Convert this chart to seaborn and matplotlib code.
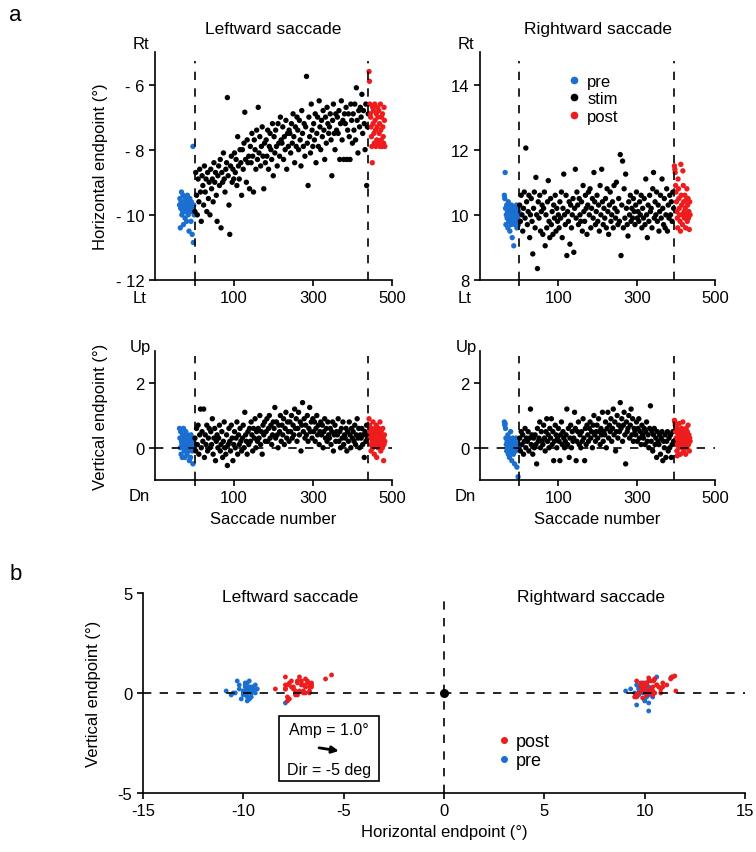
import numpy as np
import pandas as pd
import matplotlib
matplotlib.use("Agg")
import matplotlib.pyplot as plt
import seaborn as sns
from matplotlib.lines import Line2D
from matplotlib.patches import Rectangle

# ---- values ----
# number of stimulated saccades in each direction
left_n_stim = 439
right_n_stim = 394

# leftward saccades, horizontal endpoint (deg)
left_h_pre = [-9.7, -9.5, -10.4, -9.8, -9.6, -9.3, -10.0, -9.7, -9.9, -9.4, -10.3, -9.6, -9.8,
              -9.7, -10.1, -9.5, -9.9, -9.6, -10.2, -9.8, -9.4, -9.7, -10.0, -9.6, -10.5, -9.8,
              -9.5, -9.9, -9.7, -10.2, -9.6, -9.8, -10.6, -9.9, -7.9, -10.85, -9.7, -10.0]
left_h_stim = [
    -9.9, -8.7, -9.4, -10.0, -8.9, -9.6, -8.6, -9.3, -10.2, -8.8,
    -9.1, -9.7, -8.5, -9.3, -8.9, -9.9, -8.7, -9.5, -9.0, -10.0,
    -8.6, -9.2, -8.9, -9.6, -8.4, -9.0, -8.7, -9.4, -10.2, -8.8,
    -8.5, -9.1, -8.3, -10.4, -8.7, -9.0, -8.1, -8.9, -9.3, -8.6,
    -8.4, -6.4, -8.8, -9.7, -10.6, -8.5, -8.2, -9.0, -8.6, -8.9,
    -8.1, -8.7, -8.3, -9.1, -7.6, -8.5, -8.9, -8.0, -8.4, -9.4,
    -8.0, -8.6, -7.8, -6.85, -8.3, -9.0, -7.7, -8.4, -8.2, -9.2,
    -7.9, -8.4, -7.5, -8.2, -9.3, -7.7, -8.0, -8.6, -7.4, -8.3,
    -6.7, -8.1, -7.6, -8.5, -7.9, -7.3, -8.2, -9.2, -7.8, -8.4,
    -7.7, -8.2, -7.4, -8.6, -7.9, -7.5, -8.0, -8.3, -7.2, -8.8,
    -7.6, -8.1, -7.4, -7.9, -8.5, -7.2, -7.8, -8.2, -7.0, -7.7,
    -7.8, -7.3, -8.3, -7.6, -8.0, -7.1, -8.6, -7.5, -7.9, -7.4,
    -7.5, -8.1, -7.2, -7.8, -6.9, -7.6, -8.4, -7.3, -7.9, -7.0,
    -7.4, -8.0, -7.1, -7.7, -8.5, -6.8, -7.5, -7.9, -7.2, -8.2,
    -7.3, -5.75, -7.8, -9.1, -7.0, -7.6, -8.1, -6.6, -7.4, -7.9,
    -7.2, -7.7, -6.9, -8.4, -7.5, -7.0, -7.9, -6.5, -7.3, -8.0,
    -7.1, -7.6, -6.8, -7.4, -8.3, -7.0, -7.8, -6.7, -7.2, -7.5,
    -7.3, -6.9, -7.7, -8.8, -7.1, -6.6, -7.5, -8.0, -6.9, -7.4,
    -7.0, -7.5, -6.8, -8.3, -7.2, -6.5, -7.7, -7.1, -8.3, -6.9,
    -7.2, -6.7, -8.3, -7.4, -6.9, -7.6, -8.3, -6.6, -7.1, -7.8,
    -6.9, -7.4, -6.6, -7.7, -6.1, -7.1, -8.1, -6.8, -7.3, -6.7,
    -7.0, -6.3, -7.5, -6.8, -7.2, -8.0, -6.6, -9.1, -7.3, -6.9]
left_h_post = [-5.6, -5.9, -6.6, -6.9, -7.0, -7.3, -7.6, -7.9, -8.4, -6.7, -7.2, -6.8, -7.5,
               -7.8, -6.6, -7.1, -7.4, -7.9, -6.9, -7.7, -7.3, -6.7, -7.0, -7.8, -6.8, -7.5,
               -7.2, -7.9, -6.6, -7.4, -7.7, -7.0, -7.9, -6.9, -7.3, -7.6, -7.8, -6.7, -7.1, -7.9]

# rightward saccades, horizontal endpoint (deg)
right_h_pre = [10.6, 10.5, 11.3, 10.2, 9.7, 10.0, 10.3, 9.9, 10.1, 9.6, 10.4, 9.8, 10.2, 10.0,
               9.5, 10.1, 9.9, 9.7, 10.3, 10.0, 9.3, 10.2, 9.8, 10.1, 9.05, 9.9, 10.2, 9.7,
               10.0, 10.1, 9.8, 10.3, 9.6, 10.0, 9.9, 10.2, 9.7, 10.1]
right_h_stim = [
    10.3, 9.8, 10.6, 10.0, 9.5, 10.2, 10.7, 9.9, 12.05, 10.4,
    9.7, 10.1, 10.6, 9.3, 10.0, 10.5, 9.8, 8.8, 10.2, 10.7,
    9.6, 11.15, 10.0, 8.35, 10.4, 9.9, 10.6, 9.5, 10.1, 10.3,
    9.4, 10.2, 10.7, 9.05, 10.0, 9.6, 10.4, 11.05, 9.8, 9.3,
    10.5, 9.7, 10.1, 9.4, 10.3, 9.9, 10.6, 9.5, 10.2, 9.8,
    10.0, 9.6, 10.4, 9.9, 10.7, 9.3, 10.2, 11.25, 10.0, 9.7,
    10.6, 8.75, 10.1, 9.8, 10.4, 9.1, 10.3, 9.6, 10.0, 10.5,
    8.85, 10.2, 11.4, 9.9, 10.7, 10.3, 9.7, 10.5, 10.0, 9.8,
    10.4, 9.5, 10.9, 10.1, 9.8, 10.6, 10.2, 9.4, 10.3, 10.7,
    10.0, 10.8, 9.6, 10.2, 10.5, 9.9, 11.3, 10.4, 9.7, 10.1,
    10.6, 9.8, 10.3, 9.5, 10.9, 10.0, 11.4, 10.4, 9.7, 10.2,
    9.9, 10.5, 9.6, 10.8, 10.1, 9.4, 10.3, 10.7, 9.8, 10.0,
    10.4, 9.6, 10.9, 10.2, 9.9, 11.0, 10.1, 9.7, 10.5, 9.8,
    11.85, 8.75, 10.3, 11.65, 9.6, 10.8, 9.9, 11.25, 10.2, 9.7,
    9.35, 10.4, 10.0, 10.6, 9.8, 10.2, 9.9, 10.5, 10.1, 9.7,
    10.3, 10.7, 9.9, 10.1, 9.8, 10.4, 10.0, 10.6, 9.6, 10.2,
    9.9, 10.5, 9.7, 11.1, 10.0, 9.3, 10.3, 9.8, 10.6, 10.1,
    10.2, 9.6, 10.8, 11.3, 9.9, 10.4, 10.0, 10.7, 9.8, 10.3,
    9.5, 10.1, 10.6, 9.9, 11.1, 10.2, 9.7, 10.5, 9.6, 10.0,
    10.8, 9.5, 10.3, 9.9, 10.6, 10.0, 10.4, 9.8, 10.7, 10.2]
right_h_post = [11.5, 11.4, 11.3, 10.9, 10.7, 10.4, 10.1, 9.9, 9.6, 11.1, 10.8, 10.5, 10.2, 10.0,
                9.8, 9.5, 11.55, 10.6, 10.3, 10.0, 9.7, 11.35, 10.9, 10.4, 10.1, 9.9, 10.6,
                10.2, 9.6, 10.45, 10.0, 10.8, 9.8, 10.3, 10.5, 9.9, 10.1, 9.55, 10.4, 10.0]

# leftward saccades, vertical endpoint (deg)
left_v_pre = [0.6, 0.3, 0.0, 0.5, -0.2, 0.2, 0.1, -0.3, 0.4, 0.0, 0.6, 0.2, -0.1, 0.3, -0.3,
              0.1, 0.5, 0.0, 0.2, -0.2, 0.4, 0.1, -0.1, 0.3, 0.0, -0.4, 0.2, 0.1, -0.3, 0.4,
              0.0, 0.2, -0.1, 0.3, -0.5, 0.1, 0.2, 0.0]
left_v_stim = [
    0.3, -0.1, 0.6, 0.1, 0.7, -0.2, 0.4, 1.2, 0.0, 0.5,
    0.2, 1.2, -0.3, 0.4, 0.1, 0.7, -0.1, 0.3, 0.6, 0.0,
    0.5, 0.1, 0.9, -0.2, 0.3, 0.6, -0.4, 0.2, 0.4, 0.0,
    0.3, 0.7, -0.1, 0.1, 0.5, -0.3, 0.2, 0.8, 0.0, -0.2,
    0.4, -0.55, 0.1, 0.6, 0.2, -0.1, 0.7, 0.3, -0.4, 0.1,
    0.5, 0.0, 0.3, 0.8, -0.2, 0.4, 0.1, 0.6, 0.2, -0.1,
    0.3, 0.7, 0.0, 1.1, 0.4, 0.2, -0.2, 0.5, 0.1, 0.6,
    0.2, 0.8, 0.4, -0.1, 0.6, 0.3, 0.9, 0.0, 0.5, 0.2,
    0.6, 0.3, 1.0, 0.1, 0.5, -0.2, 0.7, 0.4, 0.8, 0.2,
    0.5, 0.9, 0.2, 0.6, 1.0, 0.3, 0.7, 0.1, 0.4, 0.8,
    0.6, 1.25, 0.3, 0.8, 0.4, 0.0, 0.7, 0.5, 1.0, 0.2,
    0.7, 0.4, 0.9, 0.1, 0.6, 1.1, 0.3, 0.8, 0.5, 0.2,
    0.8, 0.5, 1.0, 0.3, 0.7, 0.4, 1.2, 0.6, 0.9, 0.2,
    0.6, 1.1, 0.4, 0.8, -0.1, 0.7, 1.4, 0.5, 0.9, 0.3,
    0.7, 0.4, 1.0, 0.2, 0.6, 1.25, 0.5, 0.8, 0.3, 0.9,
    0.5, 0.8, 0.2, 0.6, 1.0, 0.4, 0.7, 0.1, 0.5, 0.8,
    0.4, 0.7, 0.0, 0.5, 0.9, 0.3, 0.6, 0.2, 0.8, 0.4,
    0.3, 0.6, 0.1, 0.5, 0.8, -0.1, 0.4, 0.7, 0.2, 0.5,
    0.4, 0.9, 0.2, 0.5, 0.0, 0.6, 0.3, 0.8, 0.1, 0.4,
    0.3, 0.6, -0.1, 0.5, 0.2, 0.8, 0.4, 0.0, 0.6, 0.3,
    0.5, 0.2, 0.7, 0.1, 0.4, 0.9, 0.3, 0.6, 0.0, 0.4,
    0.3, 0.6, 0.1, 0.4, -0.3, 0.5, 0.2, 0.7, 0.3, 0.4]
left_v_post = [0.9, 0.7, 0.5, 0.3, 0.1, -0.1, 0.6, 0.4, 0.2, 0.0, 0.8, 0.5, 0.3, -0.2, 0.4,
               0.6, 0.1, 0.2, 0.7, -0.3, 0.5, 0.3, 0.0, 0.4, 0.6, 0.2, 0.1, 0.8, 0.3, -0.1,
               0.5, 0.4, 0.2, 0.0, 0.6, 0.3, -0.4, 0.1, 0.4, 0.2]

# rightward saccades, vertical endpoint (deg)
right_v_pre = [0.8, 0.7, 0.75, 0.6, 0.3, 0.1, -0.1, 0.2, 0.0, 0.4, -0.2, 0.1, 0.3, -0.3, 0.0,
               0.2, 0.5, -0.1, 0.1, -0.4, 0.2, 0.0, 0.3, -0.2, 0.1, 0.0, -0.5, 0.2, 0.1, -0.1,
               0.3, 0.0, -0.6, 0.1, 0.2, -0.9, 0.0, 0.1]
right_v_stim = [
    0.3, -0.1, 0.5, 0.1, 0.4, -0.2, 0.2, 0.6, 0.0, 0.3,
    0.2, 0.5, -0.1, 0.3, 1.2, 0.1, 0.4, -0.2, 0.3, 0.0,
    0.4, 0.1, -0.5, 0.6, 0.2, 0.3, 0.8, 0.0, 0.5, 0.2,
    0.1, 0.7, 0.3, -0.1, 0.5, 0.9, 0.2, 0.4, 0.0, 0.6,
    0.3, 0.9, 0.1, 0.5, -0.4, 0.2, 0.7, 0.4, 0.0, 0.3,
    0.6, 0.2, -0.4, 0.4, 0.8, 0.1, 0.5, 0.3, 0.0, 0.2,
    0.4, 1.2, 0.1, 0.6, -0.3, 0.3, 0.7, 0.0, 0.5, 0.2,
    0.3, 1.1, 0.6, -0.4, 0.2, 0.5, 0.8, 0.1, 0.4, 0.0,
    0.5, 0.2, 0.9, 0.3, -0.4, 0.6, 0.1, 0.7, 0.4, 0.2,
    0.6, 0.8, 0.3, 0.5, 0.0, 0.7, 1.0, 0.4, 0.2, 0.5,
    0.7, 0.3, 0.9, 0.5, 0.1, 0.6, 0.4, 1.1, 0.2, 0.5,
    0.4, 0.8, 0.0, 0.6, 1.1, 0.3, 0.7, 0.5, 0.9, 0.2,
    0.6, 1.2, 0.4, 0.8, -0.1, 0.5, 1.0, 0.3, 0.7, 0.5,
    1.4, 0.6, 0.9, 0.2, 0.7, 1.1, 0.4, -0.5, 0.8, 0.5,
    0.6, 1.0, 0.3, 0.7, 1.2, 0.4, 0.9, 0.2, 0.6, 0.5,
    0.4, 0.8, 0.2, 0.6, 0.9, 0.3, 0.5, 0.1, 0.7, 0.4,
    0.3, 0.6, 0.1, 0.5, 0.8, 0.2, 0.4, 0.0, 0.6, 1.3,
    0.2, 0.5, -0.1, 0.4, 0.6, 0.1, 0.3, -0.3, 0.5, 0.2,
    0.1, 0.4, -0.2, 0.3, 0.5, -0.4, 0.2, 0.0, 0.4, -0.3,
    0.2, 0.5, -0.1, 0.3, 0.0, 0.4, -0.3, 0.1, 0.5, 0.2]
right_v_post = [0.85, 0.8, 0.7, 0.5, 0.3, 0.1, -0.1, -0.25, 0.6, 0.4, 0.2, 0.0, 0.75, 0.5, 0.3,
                -0.2, 0.1, 0.4, 0.6, 0.2, 0.0, 0.8, 0.3, -0.1, 0.5, 0.2, 0.4, 0.1, -0.2, 0.6,
                0.3, 0.0, 0.5, 0.2, 0.7, 0.1, 0.4, -0.1, 0.3, 0.2]

phase_colors = {"pre": "#1a6fd1", "stim": "black", "post": "#ee1c1c"}

sns.set_style("ticks")
plt.rcParams['font.family'] = ['Liberation Sans', 'DejaVu Sans']
plt.rcParams['axes.unicode_minus'] = False
for key in ['text.color', 'axes.labelcolor', 'xtick.color', 'ytick.color', 'axes.edgecolor']:
    plt.rcParams[key] = 'black'
plt.rcParams['axes.linewidth'] = 1.2
plt.rcParams['xtick.major.width'] = 1.2
plt.rcParams['ytick.major.width'] = 1.2
plt.rcParams['xtick.major.size'] = 4
plt.rcParams['ytick.major.size'] = 4
plt.rcParams['xtick.labelsize'] = 12
plt.rcParams['ytick.labelsize'] = 12
plt.rcParams['axes.labelsize'] = 12


def phase_frame(pre, stim, post, n_stim):
    # one point per saccade: pre block before 0, stim block 1..n_stim, post block after
    x = np.concatenate([np.linspace(-38, -1, len(pre)),
                        np.linspace(1, n_stim, len(stim)),
                        np.linspace(n_stim + 2, n_stim + 42, len(post))])
    y = np.concatenate([pre, stim, post])
    phase = ["pre"] * len(pre) + ["stim"] * len(stim) + ["post"] * len(post)
    return pd.DataFrame({"saccade": x, "endpoint": y, "phase": phase})


dash = (0, (5, 5))


def draw_time(ax, df, n_stim, ylim, yticks, yticklabels, top_word, bottom_word, zero_line):
    sns.scatterplot(data=df, x="saccade", y="endpoint", hue="phase", palette=phase_colors,
                    s=15, linewidth=0, ax=ax, legend=False)
    ax.axvline(0, ymax=0.96, color="black", lw=1.2, ls=dash)
    ax.axvline(n_stim, ymax=0.96, color="black", lw=1.2, ls=dash)
    if zero_line:
        ax.axhline(0, color="black", lw=1.2, ls=dash)
    ax.set_xlim(-100, 500)
    ax.set_ylim(*ylim)
    ax.set_yticks(yticks)
    ax.set_yticklabels(yticklabels)
    ax.set_xticks([0, 100, 300, 500])
    ax.set_xticklabels(["", "100", "300", "500"])
    ax.set_xlabel("")
    ax.set_ylabel("")
    sns.despine(ax=ax)
    ax.text(-0.06, 1.035, top_word, transform=ax.transAxes, ha="center", va="center", fontsize=12)
    ax.text(-0.065, -0.075 if ylim[1] - ylim[0] > 5 else -0.12, bottom_word,
            transform=ax.transAxes, ha="center", va="center", fontsize=12)


fig = plt.figure(figsize=(7.56, 8.53), dpi=100)

ax_lh = fig.add_axes([0.205, 0.6706, 0.314, 0.2673])
ax_rh = fig.add_axes([0.635, 0.6706, 0.311, 0.2673])
ax_lv = fig.add_axes([0.205, 0.4361, 0.314, 0.1512])
ax_rv = fig.add_axes([0.635, 0.4361, 0.311, 0.1512])
ax_b = fig.add_axes([0.189, 0.0692, 0.7965, 0.2345])

draw_time(ax_lh, phase_frame(left_h_pre, left_h_stim, left_h_post, left_n_stim), left_n_stim,
          (-12, -5), [-12, -10, -8, -6], ["- 12", "- 10", "- 8", "- 6"], "Rt", "Lt", False)
draw_time(ax_rh, phase_frame(right_h_pre, right_h_stim, right_h_post, right_n_stim), right_n_stim,
          (8, 15), [8, 10, 12, 14], ["8", "10", "12", "14"], "Rt", "Lt", False)
draw_time(ax_lv, phase_frame(left_v_pre, left_v_stim, left_v_post, left_n_stim), left_n_stim,
          (-1, 3), [0, 2], ["0", "2"], "Up", "Dn", True)
draw_time(ax_rv, phase_frame(right_v_pre, right_v_stim, right_v_post, right_n_stim), right_n_stim,
          (-1, 3), [0, 2], ["0", "2"], "Up", "Dn", True)

ax_lh.set_title("Leftward saccade", fontsize=12.5, pad=14)
ax_rh.set_title("Rightward saccade", fontsize=12.5, pad=14)
ax_lh.set_ylabel("Horizontal endpoint (°)")
ax_lh.yaxis.set_label_coords(-0.2, 0.5)
ax_lv.set_ylabel("Vertical endpoint (°)")
ax_lv.yaxis.set_label_coords(-0.2, 0.5)
ax_lv.set_xlabel("Saccade number")
ax_rv.set_xlabel("Saccade number")

# legend for the time panels
leg_handles = [Line2D([], [], marker="o", ls="", color=phase_colors[p], markersize=4.5)
               for p in ["pre", "stim", "post"]]
ax_rh.legend(leg_handles, ["pre", "stim", "post"], loc="upper left", bbox_to_anchor=(0.3, 0.97),
             frameon=False, handletextpad=0.3, labelspacing=0.15, fontsize=12, handlelength=1)

# ---- panel b: endpoint scatter ----
b_df = pd.concat([
    pd.DataFrame({"h": left_h_pre, "v": left_v_pre, "phase": "pre"}),
    pd.DataFrame({"h": right_h_pre, "v": right_v_pre, "phase": "pre"}),
    pd.DataFrame({"h": left_h_post, "v": left_v_post, "phase": "post"}),
    pd.DataFrame({"h": right_h_post, "v": right_v_post, "phase": "post"}),
], ignore_index=True)

ax_b.axhline(0, color="black", lw=1.2, ls=dash)
ax_b.axvline(0, color="black", lw=1.2, ls=dash)
sns.scatterplot(data=b_df, x="h", y="v", hue="phase", palette=phase_colors, s=12, linewidth=0,
                ax=ax_b, legend=False)
ax_b.scatter([0], [0], s=30, color="black", zorder=5)
ax_b.set_xlim(-15, 15)
ax_b.set_ylim(-5, 5)
ax_b.set_xticks([-15, -10, -5, 0, 5, 10, 15])
ax_b.set_yticks([-5, 0, 5])
ax_b.set_xlabel("Horizontal endpoint (°)")
ax_b.set_ylabel("Vertical endpoint (°)")
ax_b.yaxis.set_label_coords(-0.07, 0.5)
sns.despine(ax=ax_b)
ax_b.text(0.245, 0.98, "Leftward saccade", transform=ax_b.transAxes, ha="center", va="center", fontsize=12.5)
ax_b.text(0.745, 0.98, "Rightward saccade", transform=ax_b.transAxes, ha="center", va="center", fontsize=12.5)

b_handles = [Line2D([], [], marker="o", ls="", color=phase_colors[p], markersize=4) for p in ["post", "pre"]]
ax_b.legend(b_handles, ["post", "pre"], loc="upper left", bbox_to_anchor=(0.557, 0.38), frameon=False,
            handletextpad=0.2, labelspacing=0.1, fontsize=13, handlelength=1)

# amplitude / direction inset box
ax_b.add_patch(Rectangle((0.226, 0.06), 0.166, 0.325, transform=ax_b.transAxes, fill=False,
                         lw=1.2, edgecolor="black"))
ax_b.text(0.309, 0.315, "Amp = 1.0°", transform=ax_b.transAxes, ha="center", va="center", fontsize=11.5)
ax_b.annotate("", xy=(0.33, 0.208), xytext=(0.288, 0.228), xycoords=ax_b.transAxes,
              arrowprops=dict(arrowstyle="-|>", color="black", lw=2, mutation_scale=10))
ax_b.text(0.309, 0.115, "Dir = -5 deg", transform=ax_b.transAxes, ha="center", va="center", fontsize=11.5)

fig.text(0.012, 0.982, "a", fontsize=16, va="center")
fig.text(0.012, 0.326, "b", fontsize=16, va="center")

fig.savefig("out.png", dpi=100)
